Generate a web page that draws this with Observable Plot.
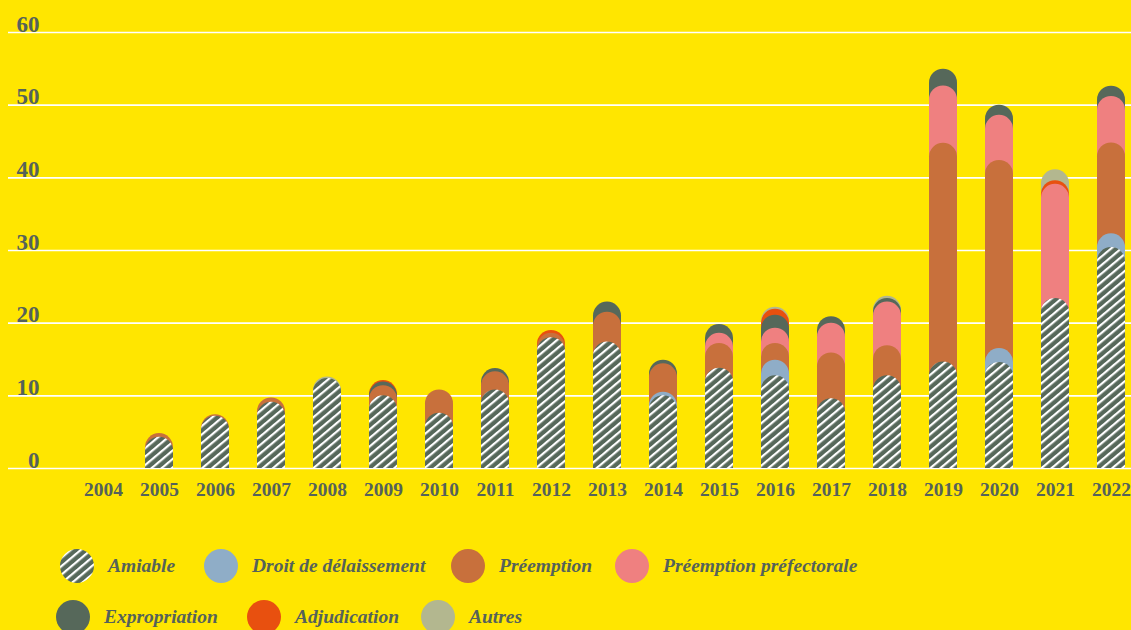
<!DOCTYPE html>
<html>
<head>
<meta charset="utf-8">
<script src="https://cdn.jsdelivr.net/npm/d3@7"></script>
<script src="https://cdn.jsdelivr.net/npm/@observablehq/plot@0.6"></script>
<style>
  html, body { margin: 0; padding: 0; background: #ffe600; width: 1131px; height: 630px; overflow: hidden; }
  #chart svg { display: block; }
  #legend { position: relative; width: 1131px; height: 115px; font-family: "Liberation Serif", "DejaVu Serif", serif; }
  .item { position: absolute; display: flex; align-items: center; }
  .item svg { display: block; }
  .item span { font-style: italic; font-weight: bold; font-size: 19.5px; color: #55625a; margin-left: 14px; white-space: nowrap; }
</style>
</head>
<body>
<div id="chart"></div>
<div id="legend"></div>
<script>
const years = ["2004","2005","2006","2007","2008","2009","2010","2011","2012","2013","2014","2015","2016","2017","2018","2019","2020","2021","2022"];
const categories = ["Amiable","Droit de délaissement","Préemption","Préemption préfectorale","Expropriation","Adjudication","Autres"];
const colors = ["url(#hatch)","#8fadc7","#c8703c","#ef8080","#56685a","#e8500f","#b3b78f"];
const amiable        = [0, 4.3, 7.2, 9.1, 12.4, 10.0, 7.6, 10.8, 18.0, 17.4, 10.0, 13.8, 12.75, 9.6, 12.75, 14.65, 14.6, 23.4, 30.4];
const droit          = [0, 0, 0, 0, 0, 0, 0, 0, 0, 0, 0.5, 0, 2.15, 0, 0, 0, 1.9, 0, 1.9];
const preemption     = [0, 0.5, 0.2, 0.6, 0, 1.4, 3.2, 2.5, 0.6, 4.1, 3.9, 3.4, 2.3, 6.3, 4.15, 30.1, 25.9, 0, 12.5];
const prefectorale   = [0, 0, 0, 0, 0, 0, 0, 0, 0, 0, 0, 1.4, 2.1, 4.1, 6.0, 7.9, 6.2, 15.7, 6.4];
const expropriation  = [0, 0, 0, 0, 0, 0.5, 0, 0.45, 0, 1.4, 0.5, 1.2, 1.8, 0.9, 0.5, 2.3, 1.4, 0, 1.4];
const adjudication   = [0, 0, 0, 0, 0, 0.2, 0, 0, 0.4, 0, 0, 0, 0.8, 0, 0, 0, 0, 0.5, 0];
const autres         = [0, 0, 0, 0, 0.2, 0, 0, 0, 0, 0, 0, 0, 0.3, 0, 0.3, 0, 0, 1.5, 0];
const yTicks = [0, 10, 20, 30, 40, 50, 60];

const series = [amiable, droit, preemption, prefectorale, expropriation, adjudication, autres];
const textColor = "#55625a";

// cumulative tops per category
const cum = [];
series.forEach((s, k) => {
  cum.push(s.map((v, i) => v + (k > 0 ? cum[k - 1][i] : 0)));
});

const barMarks = [];
for (let k = series.length - 1; k >= 0; k--) {
  const data = years.map((y, i) => ({year: y, top: cum[k][i], v: series[k][i]})).filter(d => d.v > 0);
  barMarks.push(Plot.barY(data, {
    x: "year", y1: -4, y2: "top", fill: colors[k], rx: 14, ry: 14,
    insetLeft: 0, insetRight: 0, clip: true
  }));
}

const chart = Plot.plot({
  width: 1131,
  height: 515,
  marginTop: 32,
  marginBottom: 47,
  marginLeft: 8,
  marginRight: 0,
  style: {background: "transparent", color: textColor, fontFamily: "'Liberation Serif', 'DejaVu Serif', serif", overflow: "visible"},
  x: {type: "band", domain: years, range: [74, 1139], paddingInner: 0.5, paddingOuter: 0.25, label: null},
  y: {domain: [0, 60], label: null},
  marks: [
    Plot.ruleY(yTicks, {stroke: "white", strokeWidth: 1.6}),
    ...barMarks,
    Plot.text(yTicks, {y: d => d, text: d => String(d), frameAnchor: "left", textAnchor: "end", dx: 31, lineAnchor: "bottom", dy: -1, fontSize: 23, fontWeight: "bold", fill: textColor}),
    Plot.axisX({tickSize: 0, tickPadding: 14, fontSize: 19.5, fontWeight: "bold", fill: textColor, label: null}),
    Plot.axisY({ticks: [], tickSize: 0, label: null})
  ]
});

const defs = `<defs>
  <pattern id="hatch" patternUnits="userSpaceOnUse" width="6.5" height="6.5" patternTransform="rotate(-40)">
    <rect width="6.5" height="6.5" fill="#56685a"/>
    <rect y="0" width="6.5" height="2.2" fill="#ffffff"/>
  </pattern>
</defs>`;
chart.insertAdjacentHTML("afterbegin", defs);
document.getElementById("chart").appendChild(chart);

// Legend
const legendPos = [
  [60, 51], [204, 51], [451, 51], [615, 51],
  [56, 102], [247, 102], [421, 102]
];
const legend = document.getElementById("legend");
categories.forEach((c, k) => {
  const div = document.createElement("div");
  div.className = "item";
  div.style.left = legendPos[k][0] + "px";
  div.style.top = (legendPos[k][1] - 17) + "px";
  div.innerHTML = `<svg width="34" height="34"><circle cx="17" cy="17" r="17" fill="${colors[k]}"/></svg><span>${c}</span>`;
  legend.appendChild(div);
});
</script>
</body>
</html>
